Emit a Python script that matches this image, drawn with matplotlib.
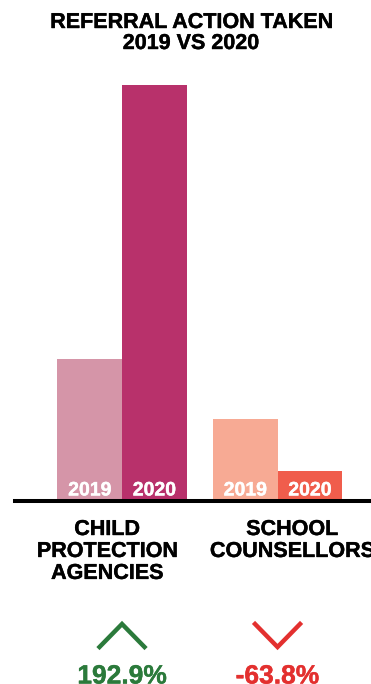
import matplotlib.pyplot as plt
import matplotlib.patheffects as pe
from matplotlib.lines import Line2D
from matplotlib.transforms import IdentityTransform

plt.rcParams['font.family'] = ['Liberation Sans', 'DejaVu Sans']

# 数据
categories = ["CHILD\nPROTECTION\nAGENCIES", "SCHOOL\nCOUNSELLORS"]
years = ["2019", "2020"]
values_2019 = [282, 163]
values_2020 = [826, 59]

colors_2019 = ["#d595a8", "#f7aa94"]
colors_2020 = ["#b8316b", "#f05d4c"]
up_color = "#2b7a3b"
down_color = "#e3302f"


def heavy(color):
    # 稍微加粗字体
    return [pe.withStroke(linewidth=0.3, foreground=color)]


W, H = 371, 684
fig = plt.figure(figsize=(W / 100, H / 100), dpi=100)
ax = fig.add_axes([15 / W, 1 - 501 / H, 356 / W, 416 / H])

width = 0.415
x = range(len(categories))
for i in x:
    ax.bar(i - width / 2, values_2019[i], width, color=colors_2019[i])
    ax.bar(i + width / 2, values_2020[i], width, color=colors_2020[i])
    for dx, yr in zip((-width / 2, width / 2), years):
        ax.annotate(yr, xy=(i + dx, 0), xytext=(0, 4), textcoords='offset points',
                    ha='center', va='baseline', color='white',
                    fontsize=14, fontweight='bold', path_effects=heavy('white'))

ax.set_xlim(-0.688, 1.601)
ax.set_ylim(0, max(values_2020))
ax.axhline(0, color='black', lw=2.9, zorder=5, clip_on=False)
ax.axis('off')

# 标题
fig.text(191 / W, 1 - 12 / H, "REFERRAL ACTION TAKEN\n2019 VS 2020",
         ha='center', va='top', fontsize=15.5, fontweight='bold', linespacing=1.0,
         path_effects=heavy('black'))

# 类别标签
label_x = [107, 292]
for lx, cat in zip(label_x, categories):
    fig.text(lx / W, 1 - 519 / H, cat, ha='center', va='top',
             fontsize=15.5, fontweight='bold', linespacing=1.06,
             path_effects=heavy('black'))

# 变化百分比和箭头
fig.canvas.draw()
for i in x:
    pct = (values_2020[i] - values_2019[i]) / values_2019[i] * 100
    cx = ax.transData.transform((i, 0))[0]
    if pct >= 0:
        color = up_color
        ys = [H - 647, H - 624, H - 647]
    else:
        color = down_color
        ys = [H - 624, H - 647, H - 624]
    fig.add_artist(Line2D([cx - 22.5, cx, cx + 22.5], ys, color=color, lw=3.2,
                          solid_joinstyle='miter', transform=IdentityTransform()))
    fig.text(cx / W, 0.5 / H, "{:.1f}%".format(pct), ha='center', va='baseline',
             color=color, fontsize=19, fontweight='bold', path_effects=heavy(color))

fig.savefig("out.png", dpi=100)
